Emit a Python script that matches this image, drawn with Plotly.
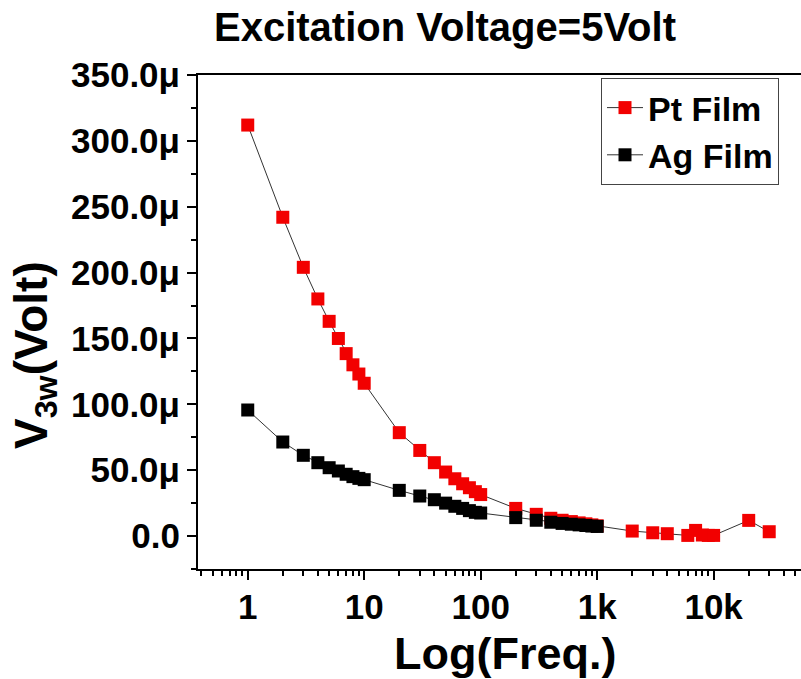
import plotly.graph_objects as go

# ---- data (values in microvolts) ----
freq_pt = [1, 2, 3, 4, 5, 6, 7, 8, 9, 10, 20, 30, 40, 50, 60, 70, 80, 90, 100,
           200, 300, 400, 500, 600, 700, 800, 900, 1000,
           2000, 3000, 4000, 6000, 7000, 8000, 9000, 10000, 20000, 30000]
v_pt = [312, 242, 204, 180, 163, 150, 138.5, 130, 123, 116, 78.5, 65, 55.7, 48.6, 43.5, 39.7, 36.7, 33.7, 31.5,
        21, 16.5, 13.5, 12, 11, 10, 9.3, 8.5, 7.8,
        3.8, 2.5, 1.8, 0.5, 4.3, 0.8, 0.5, 0.5, 11.9, 3.3]

freq_ag = [1, 2, 3, 4, 5, 6, 7, 8, 9, 10, 20, 30, 40, 50, 60, 70, 80, 90, 100,
           200, 300, 400, 500, 600, 700, 800, 900, 1000]
v_ag = [95.7, 71.4, 61.3, 55.7, 51.9, 49.4, 46.9, 45.1, 43.8, 42.8, 34.7, 30.4, 27.6, 25, 22.6, 21, 19.3, 18, 17.5,
        14, 12, 10.5, 9.6, 9, 8.5, 8, 7.6, 7.3]

x_tickvals = [1, 10, 100, 1000, 10000]
x_ticktext = ["1", "10", "100", "1k", "10k"]
y_tickvals = [0, 50, 100, 150, 200, 250, 300, 350]
y_ticktext = ["0.0", "50.0μ", "100.0μ", "150.0μ", "200.0μ", "250.0μ", "300.0μ", "350.0μ"]

FONT = "Liberation Sans, Arial, sans-serif"

x_minor = []
for dec in [0.1, 1, 10, 100, 1000, 10000]:
    for m in range(2, 10):
        x_minor.append(m * dec)
y_minor = [-25, 25, 75, 125, 175, 225, 275, 325]

fig = go.Figure()
fig.add_trace(go.Scatter(
    x=freq_pt, y=v_pt, name="Pt Film", mode="lines+markers",
    line=dict(color="#333333", width=1),
    marker=dict(symbol="square", size=13, color="#f20000", line=dict(width=0)),
))
fig.add_trace(go.Scatter(
    x=freq_ag, y=v_ag, name="Ag Film", mode="lines+markers",
    line=dict(color="#333333", width=1),
    marker=dict(symbol="square", size=13, color="#000000", line=dict(width=0)),
))

W, H = 801, 679
L, R, T, B = 198, 0, 75, 110
pw = W - L - R
ph = H - T - B

fig.update_layout(
    width=W, height=H,
    margin=dict(l=L, r=R, t=T, b=B, pad=0, autoexpand=False),
    paper_bgcolor="white", plot_bgcolor="white",
    font=dict(family=FONT, color="black"),
    showlegend=True,
    legend=dict(
        x=(601 - L) / pw, y=1 - (78 - T) / ph, xanchor="left", yanchor="top",
        bordercolor="#444444", borderwidth=1, bgcolor="white",
        font=dict(family=FONT, size=34, color="black", weight="bold"),
        itemwidth=36, tracegroupgap=0,
    ),
    xaxis=dict(
        type="log", range=[-0.427, 4.75], automargin=False,
        tickmode="array", tickvals=x_tickvals, ticktext=x_ticktext,
        ticks="outside", ticklen=9, tickwidth=2, tickcolor="black",
        ticklabelstandoff=-3,
        tickfont=dict(family=FONT, size=35, color="black", weight="bold"),
        showline=True, linewidth=2, linecolor="black", mirror=True,
        showgrid=False, zeroline=False,
        minor=dict(tickmode="array", tickvals=x_minor, ticks="outside", ticklen=5,
                   tickwidth=2, tickcolor="black", showgrid=False),
    ),
    yaxis=dict(
        range=[-25, 350], automargin=False,
        tickmode="array", tickvals=y_tickvals, ticktext=y_ticktext,
        ticks="outside", ticklen=9, tickwidth=2, tickcolor="black",
        tickfont=dict(family=FONT, size=35, color="black", weight="bold"),
        showline=True, linewidth=2, linecolor="black", mirror=False,
        showgrid=False, zeroline=False,
        minor=dict(tickmode="array", tickvals=y_minor, ticks="outside", ticklen=5,
                   tickwidth=2, tickcolor="black", showgrid=False),
    ),
    title=dict(
        text="<b>Excitation Voltage=5Volt</b>",
        x=445 / W, xref="container", xanchor="center",
        y=1 - 27 / H, yref="container", yanchor="middle",
        font=dict(family=FONT, size=40, color="black"),
    ),
    annotations=[
        dict(text="<b>Log(Freq.)</b>", xref="paper", yref="paper",
             x=(505 - L) / pw, y=-(653 - (T + ph)) / ph, xanchor="center", yanchor="middle",
             showarrow=False, font=dict(family=FONT, size=45, color="black")),
        dict(text="<b>V<sub>3w</sub>(Volt)</b>", xref="paper", yref="paper",
             x=(34 - L) / pw, y=(T + ph - 355) / ph, xanchor="center", yanchor="middle",
             textangle=-90, showarrow=False, font=dict(family=FONT, size=46, color="black")),
    ],
)

fig.write_html("out.html")
